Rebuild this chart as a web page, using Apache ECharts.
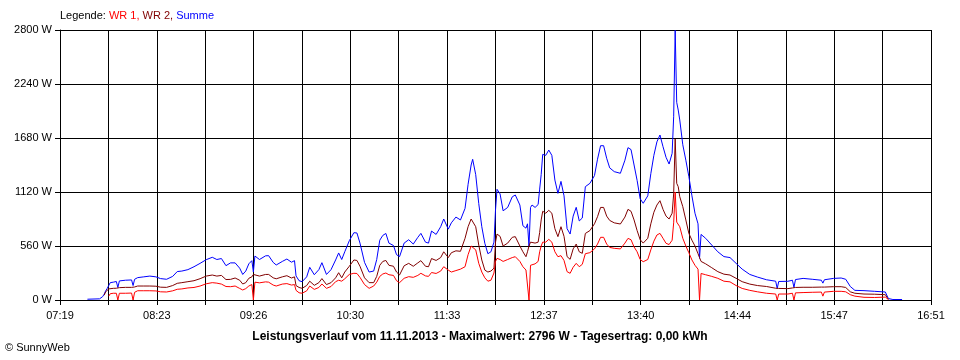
<!DOCTYPE html>
<html><head><meta charset="utf-8">
<script src="https://cdn.jsdelivr.net/npm/echarts@6/dist/echarts.min.js"></script>
<style>html,body{margin:0;padding:0;background:#fff}#c{width:960px;height:360px}</style>
</head><body><div id="c"></div>
<script>
// Axis range and ticks
const axisStart = '07:19';
const axisEnd = '16:51';
const yTicks = [0, 560, 1120, 1680, 2240, 2800];

// Sample times (clock)
const times = [
'07:37','07:45','07:47','07:48','07:49','07:50','07:51','07:52','07:54','07:56','07:57','07:58',
'08:02','08:06','08:07','08:08','08:10','08:14','08:18','08:22','08:25','08:29','08:33','08:36','08:39','08:43','08:47','08:51','08:55','08:59',
'09:02','09:05','09:08','09:11','09:14','09:17','09:19','09:21','09:23','09:25','09:26','09:27','09:30','09:34','09:36','09:39','09:41','09:45','09:48','09:51','09:53','09:54','09:56','09:58',
'10:01','10:03','10:06','10:09','10:11','10:14','10:17','10:20','10:22','10:24','10:26','10:29','10:32','10:34','10:36','10:39','10:42','10:45','10:47','10:49','10:51','10:53','10:55','10:58',
'11:00','11:02','11:05','11:08','11:11','11:14','11:16','11:19','11:21','11:23','11:26','11:29','11:31','11:34','11:36','11:39','11:42','11:45','11:47','11:49','11:50','11:52','11:54','11:56','11:58',
'12:00','12:02','12:04','12:05','12:06','12:08','12:10','12:13','12:16','12:18','12:21','12:23','12:25','12:26','12:27','12:28','12:29','12:31','12:33','12:34','12:35','12:36','12:38','12:40','12:42','12:44','12:46','12:48','12:50','12:52','12:54','12:56','12:58',
'13:00','13:02','13:04','13:07','13:10','13:12','13:14','13:16','13:18','13:20','13:23','13:27','13:30','13:32','13:34','13:36','13:38','13:40','13:42','13:45','13:47','13:49','13:51','13:53','13:55','13:57','13:59',
'14:01','14:02','14:03','14:04','14:05','14:06','14:08','14:10','14:12','14:14','14:16','14:18','14:19','14:20','14:23','14:27','14:31','14:35','14:39','14:43','14:47','14:52','14:57',
'15:03','15:09','15:10','15:11','15:17','15:20','15:21','15:22','15:27','15:33','15:39','15:40','15:41','15:47','15:52','15:55','15:58',
'16:01','16:07','16:14','16:21','16:23','16:26','16:32'
];

// WR 1 (W)
const wr1 = [
null,null,null,null,null,null,40,65,70,70,0,70,
70,72,0,80,96,96,96,94,85,83,95,111,115,125,130,145,168,180,
175,165,140,138,145,120,104,118,145,160,0,185,178,188,185,155,145,165,170,155,160,100,75,70,
95,145,110,130,166,121,140,190,205,195,220,265,277,275,235,160,121,145,185,245,270,280,262,255,
200,180,225,242,235,255,277,250,245,285,275,300,345,310,290,305,320,345,470,560,580,520,380,290,230,
195,205,280,400,432,420,400,420,440,449,400,345,311,305,0,360,380,375,400,500,560,600,600,629,600,500,449,460,410,294,277,340,380,
345,370,480,491,530,580,650,650,580,545,536,530,590,639,625,550,500,420,397,420,520,610,674,691,640,588,575,
620,800,1120,808,790,760,640,560,490,415,360,320,0,275,262,245,225,195,188,150,120,100,85,
70,62,0,62,62,70,0,74,77,80,82,40,82,90,90,85,55,
40,28,26,30,5,null,null
];

// WR 2 (W)
const wr2 = [
null,null,null,50,85,105,115,120,121,122,125,128,
131,131,131,135,145,145,145,143,133,131,150,173,180,190,200,221,248,259,
248,255,212,214,228,205,166,180,225,240,265,270,248,265,265,230,220,240,252,228,240,150,130,121,
150,195,152,180,222,160,180,230,283,230,290,350,415,410,350,230,180,180,245,360,400,410,360,350,
290,260,355,380,350,385,408,350,345,430,410,440,500,440,490,510,505,640,760,840,857,760,570,415,310,
290,300,330,600,684,660,560,590,650,657,560,500,449,500,560,600,600,590,600,700,830,920,900,930,900,740,657,760,660,450,422,530,580,
500,484,690,720,790,864,960,960,870,825,800,788,860,940,920,830,720,625,590,640,790,910,985,1030,940,870,840,
900,1100,1670,1210,1175,1071,968,830,690,620,560,480,440,400,375,335,294,268,259,225,190,165,150,
140,122,121,120,118,125,128,130,132,132,134,134,134,138,138,130,85,
70,62,60,55,5,null,null
];

// Summe (W)
const summe = [
8,12,35,60,95,120,150,180,185,192,130,198,
205,208,150,215,232,240,248,240,222,215,245,295,300,315,345,380,418,443,
420,430,356,385,385,330,265,300,375,408,290,456,420,458,460,390,363,400,425,392,408,250,200,190,
240,339,262,315,387,265,315,415,488,420,500,615,698,695,590,390,290,300,420,620,670,690,590,565,
470,450,590,625,580,650,691,600,590,715,680,760,840,735,800,860,830,950,1200,1400,1459,1300,1000,760,588,
480,500,600,933,1148,1100,925,960,1070,1089,985,770,745,790,560,960,985,960,990,1150,1300,1510,1500,1555,1500,1244,1106,1230,1080,740,684,870,961,
820,850,1175,1210,1290,1460,1600,1600,1470,1370,1331,1314,1450,1580,1560,1400,1240,1050,1003,1080,1310,1500,1640,1711,1590,1480,1410,
1521,1900,2796,2050,1970,1867,1610,1450,1279,1080,900,790,432,680,640,570,500,450,440,380,320,265,238,
210,195,120,192,194,205,130,212,224,215,205,175,210,224,228,215,140,
100,97,90,83,15,5,5
];

function toMin(s) { const p = s.split(':'); return (+p[0]) * 60 + (+p[1]); }
const t0 = toMin(axisStart);
const span = toMin(axisEnd) - t0;
function pairs(vals) { return times.map((t, i) => [toMin(t) - t0, vals[i]]); }
function pad(n) { return (n < 10 ? '0' : '') + n; }

const FONT = '"Liberation Sans", Arial, sans-serif';
const chart = echarts.init(document.getElementById('c'), null, { renderer: 'canvas' });
const black = '#000000';
chart.setOption({
  animation: false,
  backgroundColor: '#ffffff',
  grid: { left: 60, right: 29, top: 30, bottom: 60, containLabel: false },
  xAxis: {
    type: 'value', min: 0, max: span, interval: span / 9,
    axisLine: { show: true, lineStyle: { color: black, width: 1 } },
    axisTick: { show: true, length: 5, lineStyle: { color: black } },
    minorTick: { show: true, splitNumber: 2, length: 5, lineStyle: { color: black } },
    splitLine: { show: true, lineStyle: { color: black, width: 1 } },
    minorSplitLine: { show: true, lineStyle: { color: black, width: 1 } },
    axisLabel: {
      color: black, fontFamily: FONT, fontSize: 11, margin: 10,
      formatter: v => { const m = Math.round(t0 + v); return pad(Math.floor(m / 60)) + ':' + pad(m % 60); }
    }
  },
  yAxis: {
    type: 'value', min: yTicks[0], max: yTicks[yTicks.length - 1], interval: yTicks[1] - yTicks[0],
    axisLine: { show: true, lineStyle: { color: black, width: 1 } },
    axisTick: { show: true, length: 5, lineStyle: { color: black } },
    splitLine: { show: true, lineStyle: { color: black, width: 1 } },
    axisLabel: { color: black, fontFamily: FONT, fontSize: 11, margin: 8, formatter: v => String(Math.round(v)) + ' W' }
  },
  series: [
    { name: 'Summe', type: 'line', data: pairs(summe), showSymbol: false, symbol: 'none',
      lineStyle: { color: '#0000ff', width: 1 }, connectNulls: false, z: 3 },
    { name: 'WR 2', type: 'line', data: pairs(wr2), showSymbol: false, symbol: 'none',
      lineStyle: { color: '#800000', width: 1 }, connectNulls: false, z: 4 },
    { name: 'WR 1', type: 'line', data: pairs(wr1), showSymbol: false, symbol: 'none',
      lineStyle: { color: '#ff0000', width: 1 }, connectNulls: false, z: 5 }
  ],
  graphic: [
    { type: 'text', left: 60, top: 10, style: {
      text: '{k|Legende: }{a|WR 1, }{b|WR 2, }{c|Summe}',
      rich: {
        k: { fill: black, fontFamily: FONT, fontSize: 11 },
        a: { fill: '#ff0000', fontFamily: FONT, fontSize: 11 },
        b: { fill: '#800000', fontFamily: FONT, fontSize: 11 },
        c: { fill: '#0000ff', fontFamily: FONT, fontSize: 11 }
      } } },
    { type: 'text', x: 480, y: 337, style: {
      text: 'Leistungsverlauf vom 11.11.2013 - Maximalwert: 2796 W - Tagesertrag: 0,00 kWh',
      fill: black, fontFamily: FONT, fontSize: 12, fontWeight: 'bold', align: 'center', verticalAlign: 'middle' } },
    { type: 'text', x: 5, y: 348, style: {
      text: '© SunnyWeb', fill: black, fontFamily: FONT, fontSize: 11, align: 'left', verticalAlign: 'middle' } }
  ]
});
</script>
</body></html>
